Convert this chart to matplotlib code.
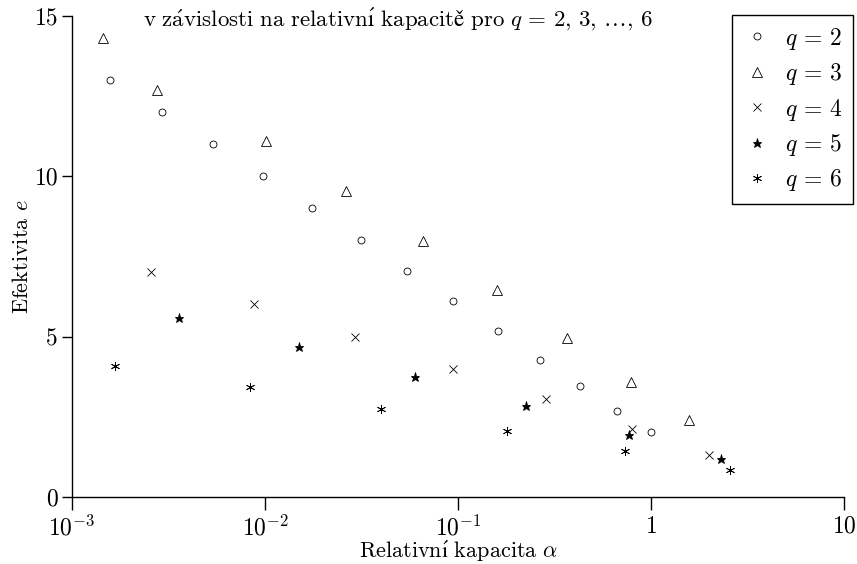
import matplotlib
matplotlib.use('Agg')
import matplotlib.pyplot as plt
import numpy as np

# data
alpha_q2 = [0.00157, 0.00292, 0.00538, 0.00977, 0.0175, 0.0314, 0.0544, 0.0942,
            0.161, 0.266, 0.429, 0.667, 1.0]
eff_q2 = [13.0, 12.0, 11.0, 10.0, 9.0, 8.0, 7.05, 6.1, 5.18, 4.27, 3.46, 2.68, 2.03]

alpha_q3 = [0.00145, 0.00275, 0.0101, 0.0263, 0.0659, 0.159, 0.367, 0.787, 1.574]
eff_q3 = [14.3, 12.7, 11.1, 9.55, 7.97, 6.45, 4.95, 3.57, 2.39]

alpha_q4 = [0.00257, 0.00877, 0.0292, 0.0942, 0.286, 0.798, 2.0]
eff_q4 = [7.0, 6.0, 5.0, 4.0, 3.05, 2.12, 1.31]

alpha_q5 = [0.00358, 0.0150, 0.0598, 0.225, 0.769, 2.31]
eff_q5 = [5.58, 4.68, 3.74, 2.84, 1.93, 1.18]

alpha_q6 = [0.00167, 0.00835, 0.0399, 0.179, 0.733, 2.56]
eff_q6 = [4.07, 3.43, 2.74, 2.05, 1.42, 0.83]

labels = [r'$q\,=\,2$', r'$q\,=\,3$', r'$q\,=\,4$', r'$q\,=\,5$', r'$q\,=\,6$']
xticks = [1e-3, 1e-2, 1e-1, 1, 10]
xticklabels = ['$10^{-3}$', '$10^{-2}$', '$10^{-1}$', '$1$', '$10$']
yticks = [0, 5, 10, 15]

# cmr10 has no Czech accents, so these words go through mathtext (cm, STIX fallback)
title = (r'$\mathrm{v\ z\acute{a}vislosti\ na\ relativn\acute{ı}\ kapacitě\ pro}'
         r'\ q\,=\,2,\,3,\,\ldots,\,6$')
xlabel = r'$\mathrm{Relativn\acute{ı}\ kapacita}\ \alpha$'
ylabel = 'Efektivita $e$'

plt.rcParams['font.family'] = ['cmr10', 'DejaVu Serif']
plt.rcParams['mathtext.fontset'] = 'cm'
plt.rcParams['axes.unicode_minus'] = False

fig = plt.figure(figsize=(8.57, 5.64), dpi=100)
ax = fig.add_axes([0.084, 0.119, 0.901, 0.853])

mk = dict(linestyle='none', color='black', markeredgewidth=0.6)
ax.plot(alpha_q2, eff_q2, marker='o', markersize=5, markerfacecolor='none', label=labels[0], **mk)
ax.plot(alpha_q3, eff_q3, marker='^', markersize=7, markerfacecolor='none', label=labels[1], **mk)
ax.plot(alpha_q4, eff_q4, marker='x', markersize=6, label=labels[2], **mk)
ax.plot(alpha_q5, eff_q5, marker='*', markersize=6.5, markerfacecolor='black', label=labels[3], **mk)
ax.plot(alpha_q6, eff_q6, marker=(6, 2, 0), markersize=6.5, label=labels[4], **mk)

ax.set_xscale('log')
ax.set_xlim(1e-3, 10)
ax.set_ylim(0, 15)
ax.set_xticks(xticks)
ax.set_xticklabels(xticklabels)
ax.xaxis.set_minor_locator(matplotlib.ticker.NullLocator())
ax.set_yticks(yticks)

ax.spines['top'].set_visible(False)
ax.spines['right'].set_visible(False)
for s in ('left', 'bottom'):
    ax.spines[s].set_linewidth(1.0)
ax.tick_params(axis='x', direction='out', length=9.5, width=1.0, labelsize=17, pad=4)
ax.tick_params(axis='y', direction='out', length=7, width=1.0, labelsize=17, pad=3)

ax.set_xlabel(xlabel, fontsize=16, labelpad=-1.5)
ax.set_ylabel(ylabel, fontsize=16, labelpad=2)

fig.text(398 / 857, 1 - 19 / 564, title, ha='center', va='center', fontsize=16.5)

leg = ax.legend(loc='upper right', bbox_to_anchor=(853 / 857, 1 - 15 / 564),
                bbox_transform=fig.transFigure, fontsize=17, fancybox=False,
                framealpha=1, edgecolor='black', borderpad=0.45, handlelength=1.2,
                handletextpad=0.6, labelspacing=0.4, borderaxespad=0)
leg.get_frame().set_linewidth(1.0)

fig.savefig('out.png', dpi=100)
